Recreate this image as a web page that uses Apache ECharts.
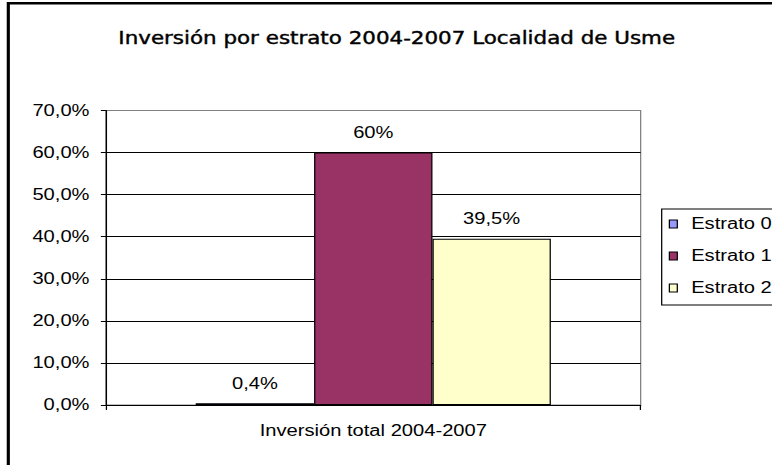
<!DOCTYPE html>
<html>
<head>
<meta charset="utf-8">
<script src="https://cdn.jsdelivr.net/npm/echarts@6/dist/echarts.min.js"></script>
<style>
  html, body { margin: 0; padding: 0; background: #fff; overflow: hidden; }
  /* la imagen original viene estirada a lo ancho, se reproduce con scaleX */
  #main {
    width: 613px;
    height: 465px;
    transform: scaleX(1.2594);
    transform-origin: 0 0;
  }
</style>
</head>
<body>
<div id="main"></div>
<script>
// datos del grafico
var categories = ['Inversión total 2004-2007']
var seriesNames = ['Estrato 0', 'Estrato 1', 'Estrato 2']
var values = [0.4, 60, 39.5]
var valueLabels = ['0,4%', '60%', '39,5%']
var colors = ['#9999FF', '#993366', '#FFFFCC']

var font = 'Liberation Sans, Arial, sans-serif'

var myChart = echarts.init(document.getElementById('main'), null, { renderer: 'svg' })

var series = []
for (var i = 0; i < seriesNames.length; i++) {
  series.push({
    name: seriesNames[i],
    type: 'bar',
    barWidth: 94,
    barGap: '0%',
    data: [values[i]],
    itemStyle: {
      color: colors[i],
      borderColor: '#000',
      borderWidth: 1
    },
    label: {
      show: true,
      position: 'top',
      distance: 12,
      color: '#000',
      fontFamily: font,
      fontSize: 16,
      formatter: (function (txt) {
        return function () { return txt }
      })(valueLabels[i])
    }
  })
}

var option = {
  animation: false,
  backgroundColor: '#fff',
  title: {
    text: 'Inversión por estrato 2004-2007 Localidad de Usme',
    left: 315,
    top: 30,
    textAlign: 'center',
    padding: 0,
    textStyle: {
      fontFamily: 'DejaVu Sans',
      fontSize: 17,
      fontWeight: 'normal',
      color: '#000',
      textBorderColor: '#000',
      textBorderWidth: 0.4
    }
  },
  graphic: [
    {
      type: 'rect',
      silent: true,
      z: 100,
      shape: { x: 6.6, y: 3.2, width: 700, height: 600 },
      style: { fill: 'none', stroke: '#000', lineWidth: 2.5 }
    }
  ],
  legend: {
    orient: 'vertical',
    left: 525.4,
    top: 209,
    padding: [7, 12, 9, 5.6],
    itemGap: 16,
    itemWidth: 6.3,
    itemHeight: 8,
    icon: 'rect',
    borderColor: '#000',
    borderWidth: 1,
    itemStyle: {
      borderColor: '#000',
      borderWidth: 1
    },
    textStyle: {
      color: '#000',
      fontFamily: font,
      fontSize: 16,
      padding: [0, 0, 0, 6]
    },
    data: seriesNames
  },
  grid: {
    left: 84.1,
    top: 110.5,
    width: 424.6,
    height: 294.5,
    show: true,
    borderColor: '#808080',
    borderWidth: 1,
    backgroundColor: '#fff'
  },
  xAxis: {
    type: 'category',
    data: categories,
    axisLine: { lineStyle: { color: '#000', width: 1 } },
    axisTick: { show: true, length: 5, lineStyle: { color: '#000' } },
    axisLabel: {
      margin: 18,
      color: '#000',
      fontFamily: font,
      fontSize: 16
    }
  },
  yAxis: {
    type: 'value',
    min: 0,
    max: 70,
    interval: 10,
    axisLine: { show: true, lineStyle: { color: '#000', width: 1 } },
    axisTick: { show: true, length: 4, lineStyle: { color: '#000' } },
    axisLabel: {
      margin: 13,
      color: '#000',
      fontFamily: font,
      fontSize: 16,
      formatter: function (value) {
        return value.toFixed(1).replace('.', ',') + '%'
      }
    },
    splitLine: {
      show: true,
      lineStyle: {
        color: ['#000', '#000', '#000', '#000', '#000', '#000', '#000', '#808080'],
        width: 1
      }
    }
  },
  series: series
}

myChart.setOption(option)
</script>
</body>
</html>
